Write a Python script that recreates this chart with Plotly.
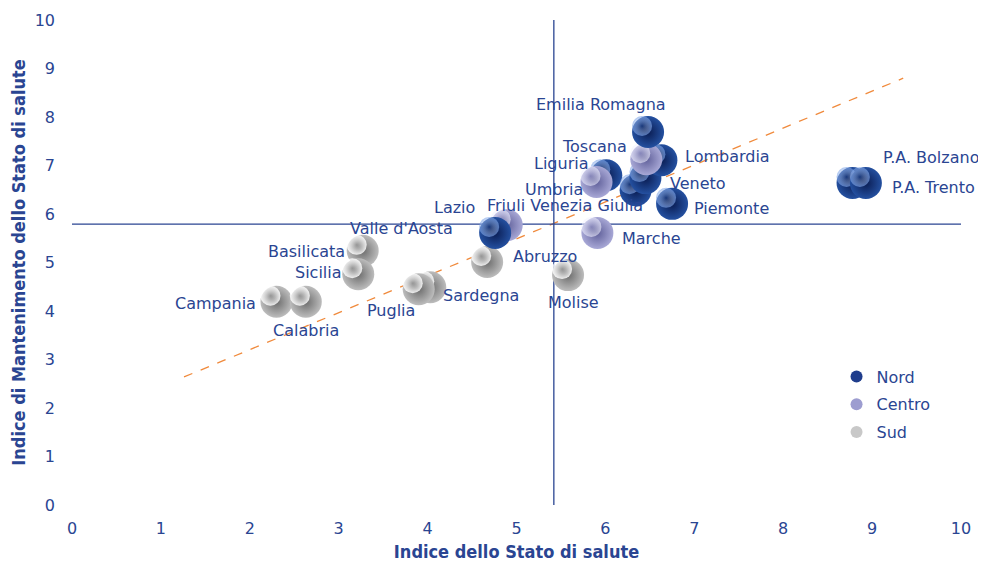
import plotly.graph_objects as go

# ---------------- data ----------------
regions = ["Campania", "Calabria", "Basilicata", "Sicilia", "Sardegna", "Puglia",
           "Abruzzo", "Molise", "Lazio", "Valle d'Aosta", "Marche",
           "Liguria", "Umbria", "Friuli Venezia Giulia", "Veneto",
           "Piemonte", "Lombardia", "Toscana", "Emilia Romagna",
           "P.A. Bolzano", "P.A. Trento"]
area = ["Sud", "Sud", "Sud", "Sud", "Sud", "Sud",
        "Sud", "Sud", "Centro", "Nord", "Centro",
        "Nord", "Centro", "Nord", "Nord",
        "Nord", "Nord", "Centro", "Nord",
        "Nord", "Nord"]
stato_salute = [2.30, 2.63, 3.27, 3.22, 4.03, 3.90,
                4.67, 5.58, 4.89, 4.76, 5.91,
                6.01, 5.90, 6.34, 6.45,
                6.75, 6.63, 6.46, 6.48,
                8.78, 8.93]
mantenimento = [4.19, 4.19, 5.24, 4.76, 4.49, 4.45,
                5.01, 4.74, 5.77, 5.61, 5.61,
                6.80, 6.66, 6.49, 6.74,
                6.21, 7.11, 7.13, 7.69,
                6.64, 6.64]

mean_x = 5.42
mean_y = 5.79
trend_x = [1.26, 9.35]
trend_y = [2.64, 8.80]

x_ticks = [0, 1, 2, 3, 4, 5, 6, 7, 8, 9, 10]
y_ticks = [0, 1, 2, 3, 4, 5, 6, 7, 8, 9, 10]

# ---------------- style ----------------
TXT = "#2a4592"
FONT = "DejaVu Sans"
TFONT = "DejaVu Sans Condensed, DejaVu Sans"
ball_center = {"Nord": "#2450a0", "Centro": "#a8a8d6", "Sud": "#bdbdbd"}
ball_edge = {"Nord": "#0a1c52", "Centro": "#60609a", "Sud": "#6c6c6c"}
hl_color = {"Nord": "rgba(120,160,230,0.65)", "Centro": "rgba(240,240,255,0.6)",
            "Sud": "rgba(255,255,255,0.85)"}
legend_col = {"Nord": "#1f3d8c", "Centro": "#9d9dd0", "Sud": "#c8c8c8"}

# label offsets in pixels (dx right, dy up)
label_off = {
    "Emilia Romagna": (-47, 28), "Toscana": (-52, 13), "Lombardia": (66, 4),
    "Liguria": (-45, 12), "Umbria": (-43, -8), "Veneto": (53, -5),
    "Friuli Venezia Giulia": (-71, -15), "Piemonte": (59, -5), "Marche": (54, -6),
    "Lazio": (-52, 18), "Valle d'Aosta": (-94, 4), "Abruzzo": (58, 6),
    "Molise": (5, -27), "Sardegna": (51, -8), "Puglia": (-28, -21),
    "Basilicata": (-56, -1), "Sicilia": (-40, 2), "Campania": (-61, -2),
    "Calabria": (0, -29), "P.A. Bolzano": (78, 25), "P.A. Trento": (68, -5),
}

W, H = 978, 557
ML, MR, MT, MB = 64, 25, 12, 60
px_x = (W - ML - MR) / 10.0
px_y = (H - MT - MB) / 10.0

fig = go.Figure()

BALL = 32
for name, a, xv, yv in zip(regions, area, stato_salute, mantenimento):
    fig.add_trace(go.Scatter(
        x=[xv], y=[yv], mode="markers", showlegend=False, hoverinfo="text", hovertext=name,
        marker=dict(size=BALL, color=ball_center[a], line=dict(width=0),
                    gradient=dict(type="radial", color=ball_edge[a]))))
    fig.add_trace(go.Scatter(
        x=[xv - 6 / px_x], y=[yv + 6 / px_y], mode="markers", showlegend=False, hoverinfo="skip",
        marker=dict(size=20, color=hl_color[a], line=dict(width=0),
                    gradient=dict(type="radial", color="rgba(255,255,255,0)"))))

for a in ["Nord", "Centro", "Sud"]:
    fig.add_trace(go.Scatter(x=[None], y=[None], mode="markers", name=a, legendgroup=a,
                             marker=dict(size=20, color=legend_col[a])))

annotations = []
for name, xv, yv in zip(regions, stato_salute, mantenimento):
    dx, dy = label_off[name]
    annotations.append(dict(x=xv, y=yv, xref="x", yref="y", text=name, showarrow=False,
                            xshift=dx, yshift=dy, font=dict(family=FONT, size=16, color=TXT)))

shapes = [
    dict(type="line", xref="x", yref="y", x0=trend_x[0], y0=trend_y[0], x1=trend_x[1], y1=trend_y[1],
         line=dict(color="#f08a3c", width=1.3, dash="dash"), layer="below"),
    dict(type="line", xref="x", yref="y", x0=0, x1=10, y0=mean_y, y1=mean_y,
         line=dict(color=TXT, width=1.3), layer="below"),
    dict(type="line", xref="x", yref="y", x0=mean_x, x1=mean_x, y0=0, y1=10,
         line=dict(color=TXT, width=1.3), layer="below"),
]

fig.update_layout(
    width=W, height=H,
    margin=dict(l=ML, r=MR, t=MT, b=MB, autoexpand=False),
    paper_bgcolor="white", plot_bgcolor="white",
    font=dict(family=FONT, color=TXT, size=16),
    annotations=annotations, shapes=shapes,
    legend=dict(x=0.86, y=0.30, xanchor="left", yanchor="top", bgcolor="rgba(0,0,0,0)",
                font=dict(family=FONT, size=16, color=TXT), itemsizing="constant",
                tracegroupgap=4),
    xaxis=dict(range=[0, 10], tickvals=x_ticks, showgrid=False, zeroline=False, showline=False,
               automargin=False,
               ticks="", ticklabelstandoff=12, tickfont=dict(family=FONT, size=16, color=TXT),
               title=dict(text="<b>Indice dello Stato di salute</b>", standoff=8,
                          font=dict(family=TFONT, size=18, color=TXT))),
    yaxis=dict(range=[0, 10], tickvals=y_ticks, showgrid=False, zeroline=False, showline=False,
               automargin=False,
               ticks="", ticklabelstandoff=16, tickfont=dict(family=FONT, size=16, color=TXT),
               title=dict(text="<b>Indice di Mantenimento dello Stato di salute</b>", standoff=4,
                          font=dict(family=TFONT, size=18, color=TXT))),
)

fig.write_html("out.html")
